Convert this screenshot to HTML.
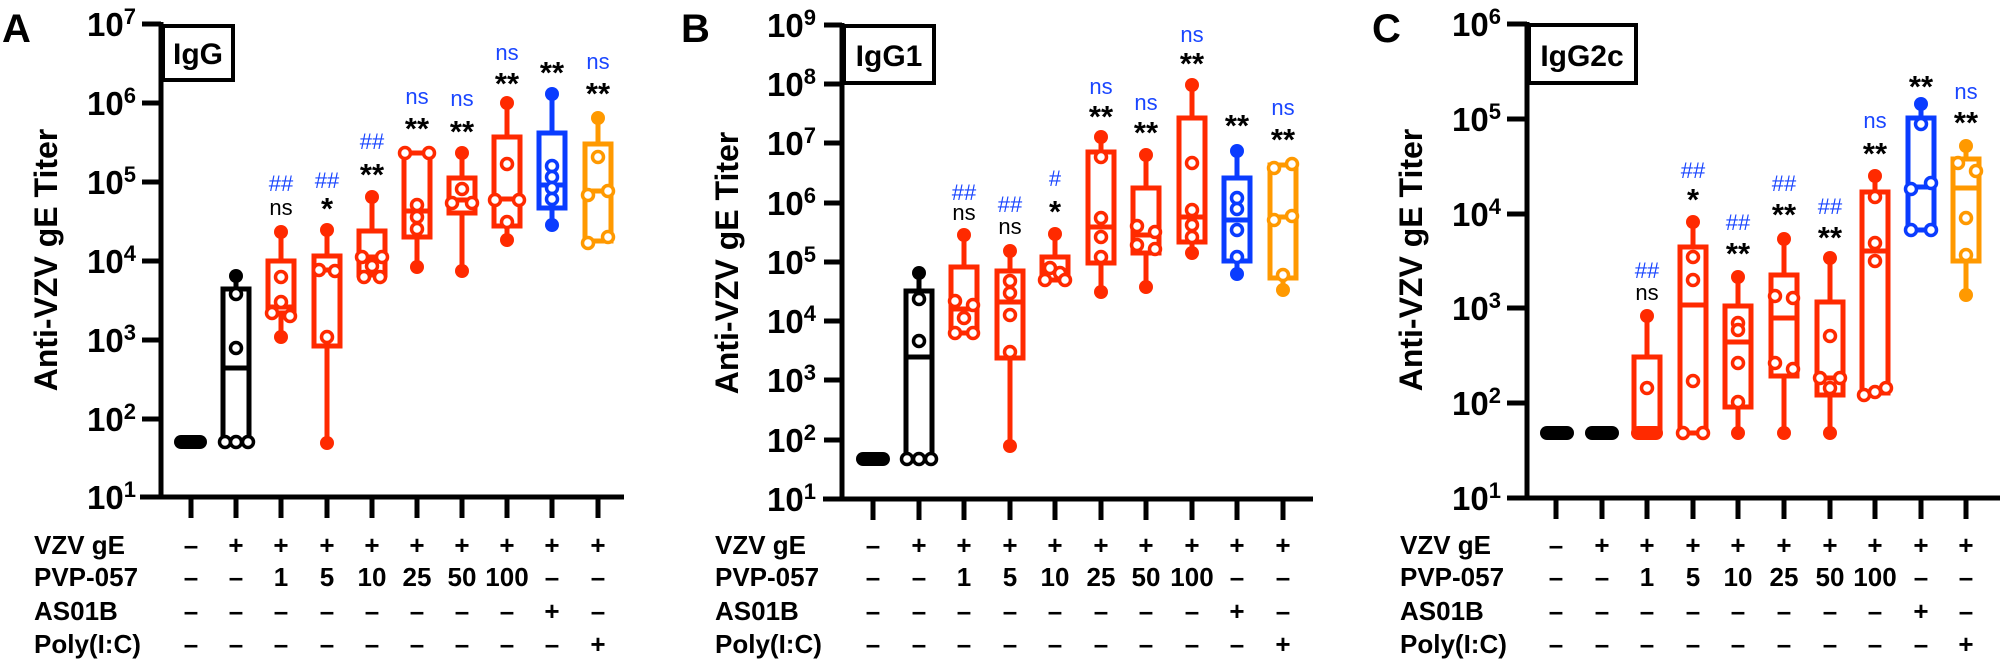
<!DOCTYPE html>
<html><head><meta charset="utf-8"><style>
body{margin:0;background:#fff}
svg{display:block;font-family:"Liberation Sans",Arial,sans-serif;font-weight:bold}
.ax{stroke:#000;stroke-width:5;fill:none}
.bx{stroke-width:5;fill:none}
.k{stroke:#000}.r{stroke:#ff2a00}.b{stroke:#0a3cff}.o{stroke:#ff9900}
.ok circle{fill:#fff;stroke-width:3.5;r:5.5}
.fl circle{r:7}
.ns{font-size:22px;font-weight:normal;text-anchor:middle}
.st{font-size:31px;text-anchor:middle}
.bl{fill:#1a46ff}
.tl{font-size:33px;text-anchor:end}
.tb{font-size:26px;text-anchor:middle}
.rl{font-size:26px}
.yt{font-size:32px;text-anchor:middle}
</style></head><body>
<svg width="2000" height="663" viewBox="0 0 2000 663">
<!-- ================= PANEL A ================= -->
<text x="2" y="42" font-size="40">A</text>
<text class="yt" transform="translate(57,260) rotate(-90)">Anti-VZV gE Titer</text>
<path class="ax" d="M161 22V497 M140 497H624 M142 24H161 M142 103H161 M142 182H161 M142 261H161 M142 340H161 M142 419H161 M191 497V518 M236 497V518 M281 497V518 M327 497V518 M372 497V518 M417 497V518 M462 497V518 M507 497V518 M552 497V518 M598 497V518"/>
<g class="tl"><text x="136" y="36">10<tspan dy="-12" font-size="22">7</tspan></text><text x="136" y="115">10<tspan dy="-12" font-size="22">6</tspan></text><text x="136" y="194">10<tspan dy="-12" font-size="22">5</tspan></text><text x="136" y="273">10<tspan dy="-12" font-size="22">4</tspan></text><text x="136" y="352">10<tspan dy="-12" font-size="22">3</tspan></text><text x="136" y="431">10<tspan dy="-12" font-size="22">2</tspan></text><text x="136" y="509">10<tspan dy="-12" font-size="22">1</tspan></text></g>
<rect x="163" y="26" width="70" height="54" fill="#fff" stroke="#000" stroke-width="4"/>
<text x="198" y="64" font-size="30" text-anchor="middle">IgG</text>
<rect x="174" y="435" width="33" height="14" rx="7" fill="#000"/>
<path class="bx k" d="M236 276V289 M223 289h26V442h-26Z M223 368h26"/>
<path class="bx r" d="M281 232V261 M281 313V337 M268 261h26V313h-26Z M268 307h26 M327 230V256 M327 346V443 M314 256h26V346h-26Z M314 270h26 M372 197V231 M359 231h26V275h-26Z M359 257h26 M404 153h26V237h-26Z M417 237V267 M404 211h26 M462 153V178 M462 213V271 M449 178h26V213h-26Z M449 200h26 M507 103V137 M507 226V240 M494 137h26V226h-26Z M494 199h26"/>
<path class="bx b" d="M552 94V133 M552 208V225 M539 133h26V208h-26Z M539 185h26"/>
<path class="bx o" d="M598 118V144 M585 144h26V241h-26Z M585 191h26"/>
<g class="fl" fill="#000"><circle cx="236" cy="276" r="7"/></g>
<g class="fl" fill="#ff2a00"><circle cx="281" cy="232" r="7"/><circle cx="281" cy="337" r="7"/><circle cx="327" cy="230" r="7"/><circle cx="327" cy="443" r="7"/><circle cx="372" cy="197" r="7"/><circle cx="417" cy="267" r="7"/><circle cx="462" cy="153" r="7"/><circle cx="462" cy="271" r="7"/><circle cx="507" cy="103" r="7"/><circle cx="507" cy="240" r="7"/></g>
<g class="fl" fill="#0a3cff"><circle cx="552" cy="94" r="7"/><circle cx="552" cy="225" r="7"/></g>
<g class="fl" fill="#ff9900"><circle cx="598" cy="118" r="7"/></g>
<g class="ok k"><circle cx="236" cy="294" r="5.5"/><circle cx="236" cy="348" r="5.5"/><circle cx="225" cy="442" r="5.5"/><circle cx="236" cy="442" r="5.5"/><circle cx="248" cy="442" r="5.5"/></g>
<g class="ok r"><circle cx="281" cy="277" r="5.5"/><circle cx="281" cy="302" r="5.5"/><circle cx="272" cy="313" r="5.5"/><circle cx="290" cy="316" r="5.5"/><circle cx="319" cy="270" r="5.5"/><circle cx="335" cy="271" r="5.5"/><circle cx="327" cy="337" r="5.5"/><circle cx="362" cy="257" r="5.5"/><circle cx="382" cy="257" r="5.5"/><circle cx="372" cy="266" r="5.5"/><circle cx="364" cy="277" r="5.5"/><circle cx="380" cy="277" r="5.5"/><circle cx="405" cy="153" r="5.5"/><circle cx="429" cy="153" r="5.5"/><circle cx="417" cy="205" r="5.5"/><circle cx="417" cy="217" r="5.5"/><circle cx="417" cy="229" r="5.5"/><circle cx="462" cy="189" r="5.5"/><circle cx="452" cy="203" r="5.5"/><circle cx="472" cy="203" r="5.5"/><circle cx="507" cy="164" r="5.5"/><circle cx="495" cy="200" r="5.5"/><circle cx="519" cy="200" r="5.5"/><circle cx="507" cy="222" r="5.5"/></g>
<g class="ok b"><circle cx="552" cy="166" r="5.5"/><circle cx="552" cy="177" r="5.5"/><circle cx="552" cy="188" r="5.5"/><circle cx="552" cy="199" r="5.5"/></g>
<g class="ok o"><circle cx="598" cy="157" r="5.5"/><circle cx="588" cy="195" r="5.5"/><circle cx="608" cy="191" r="5.5"/><circle cx="588" cy="243" r="5.5"/><circle cx="608" cy="237" r="5.5"/></g>
<g class="ns bl"><text x="281" y="191">##</text><text x="327" y="188">##</text><text x="372" y="149">##</text><text x="417" y="104">ns</text><text x="462" y="106">ns</text><text x="507" y="60">ns</text><text x="598" y="69">ns</text></g>
<g class="ns"><text x="281" y="215">ns</text></g>
<g class="st"><text x="327" y="219">*</text><text x="372" y="185">**</text><text x="417" y="139">**</text><text x="462" y="142">**</text><text x="507" y="94">**</text><text x="552" y="83">**</text><text x="598" y="104">**</text></g>
<g class="rl"><text x="34" y="554">VZV gE</text><text x="34" y="586">PVP-057</text><text x="34" y="620">AS01B</text><text x="34" y="653">Poly(I:C)</text></g>
<g class="tb">
<text x="191" y="554">–</text><text x="236" y="554">+</text><text x="281" y="554">+</text><text x="327" y="554">+</text><text x="372" y="554">+</text><text x="417" y="554">+</text><text x="462" y="554">+</text><text x="507" y="554">+</text><text x="552" y="554">+</text><text x="598" y="554">+</text>
<text x="191" y="586">–</text><text x="236" y="586">–</text><text x="281" y="586">1</text><text x="327" y="586">5</text><text x="372" y="586">10</text><text x="417" y="586">25</text><text x="462" y="586">50</text><text x="507" y="586">100</text><text x="552" y="586">–</text><text x="598" y="586">–</text>
<text x="191" y="620">–</text><text x="236" y="620">–</text><text x="281" y="620">–</text><text x="327" y="620">–</text><text x="372" y="620">–</text><text x="417" y="620">–</text><text x="462" y="620">–</text><text x="507" y="620">–</text><text x="552" y="620">+</text><text x="598" y="620">–</text>
<text x="191" y="653">–</text><text x="236" y="653">–</text><text x="281" y="653">–</text><text x="327" y="653">–</text><text x="372" y="653">–</text><text x="417" y="653">–</text><text x="462" y="653">–</text><text x="507" y="653">–</text><text x="552" y="653">–</text><text x="598" y="653">+</text>
</g>

<!-- ================= PANEL B ================= -->
<text x="681" y="42" font-size="40">B</text>
<text class="yt" transform="translate(738,263) rotate(-90)">Anti-VZV gE Titer</text>
<path class="ax" d="M842 23V499 M823 499H1313 M824 25H842 M824 84H842 M824 143H842 M824 203H842 M824 262H842 M824 321H842 M824 380H842 M824 440H842 M873 499V520 M919 499V520 M964 499V520 M1010 499V520 M1055 499V520 M1101 499V520 M1146 499V520 M1192 499V520 M1237 499V520 M1283 499V520"/>
<g class="tl"><text x="816" y="37">10<tspan dy="-12" font-size="22">9</tspan></text><text x="816" y="96">10<tspan dy="-12" font-size="22">8</tspan></text><text x="816" y="155">10<tspan dy="-12" font-size="22">7</tspan></text><text x="816" y="215">10<tspan dy="-12" font-size="22">6</tspan></text><text x="816" y="274">10<tspan dy="-12" font-size="22">5</tspan></text><text x="816" y="333">10<tspan dy="-12" font-size="22">4</tspan></text><text x="816" y="392">10<tspan dy="-12" font-size="22">3</tspan></text><text x="816" y="452">10<tspan dy="-12" font-size="22">2</tspan></text><text x="816" y="511">10<tspan dy="-12" font-size="22">1</tspan></text></g>
<rect x="844" y="26" width="90" height="57" fill="#fff" stroke="#000" stroke-width="4"/>
<text x="889" y="66" font-size="30" text-anchor="middle">IgG1</text>
<rect x="856" y="452" width="34" height="14" rx="7" fill="#000"/>
<path class="bx k" d="M919 273V291 M906 291h26V459h-26Z M906 357h26"/>
<path class="bx r" d="M964 235V267 M951 267h26V333h-26Z M951 309h26 M1010 251V271 M1010 358V446 M997 271h26V358h-26Z M997 302h26 M1055 234V257 M1042 257h26V280h-26Z M1042 272h26 M1101 137V152 M1101 263V292 M1088 152h26V263h-26Z M1088 227h26 M1146 155V188 M1146 253V287 M1133 188h26V253h-26Z M1133 235h26 M1192 85V118 M1192 242V253 M1179 118h26V242h-26Z M1179 217h26"/>
<path class="bx b" d="M1237 151V178 M1237 261V274 M1224 178h26V261h-26Z M1224 220h26"/>
<path class="bx o" d="M1283 278V290 M1270 165h26V278h-26Z M1270 217h26"/>
<g class="fl" fill="#000"><circle cx="919" cy="273" r="7"/></g>
<g class="fl" fill="#ff2a00"><circle cx="964" cy="235" r="7"/><circle cx="1010" cy="251" r="7"/><circle cx="1010" cy="446" r="7"/><circle cx="1055" cy="234" r="7"/><circle cx="1101" cy="137" r="7"/><circle cx="1101" cy="292" r="7"/><circle cx="1146" cy="155" r="7"/><circle cx="1146" cy="287" r="7"/><circle cx="1192" cy="85" r="7"/><circle cx="1192" cy="253" r="7"/></g>
<g class="fl" fill="#0a3cff"><circle cx="1237" cy="151" r="7"/><circle cx="1237" cy="274" r="7"/></g>
<g class="fl" fill="#ff9900"><circle cx="1283" cy="290" r="7"/></g>
<g class="ok k"><circle cx="919" cy="299" r="5.5"/><circle cx="919" cy="341" r="5.5"/><circle cx="907" cy="459" r="5.5"/><circle cx="919" cy="459" r="5.5"/><circle cx="931" cy="459" r="5.5"/></g>
<g class="ok r"><circle cx="955" cy="301" r="5.5"/><circle cx="973" cy="305" r="5.5"/><circle cx="964" cy="318" r="5.5"/><circle cx="955" cy="333" r="5.5"/><circle cx="973" cy="333" r="5.5"/><circle cx="1010" cy="281" r="5.5"/><circle cx="1010" cy="293" r="5.5"/><circle cx="1010" cy="315" r="5.5"/><circle cx="1010" cy="352" r="5.5"/><circle cx="1050" cy="268" r="5.5"/><circle cx="1060" cy="273" r="5.5"/><circle cx="1045" cy="280" r="5.5"/><circle cx="1065" cy="280" r="5.5"/><circle cx="1101" cy="157" r="5.5"/><circle cx="1101" cy="218" r="5.5"/><circle cx="1101" cy="237" r="5.5"/><circle cx="1101" cy="257" r="5.5"/><circle cx="1137" cy="226" r="5.5"/><circle cx="1155" cy="232" r="5.5"/><circle cx="1137" cy="245" r="5.5"/><circle cx="1155" cy="249" r="5.5"/><circle cx="1192" cy="163" r="5.5"/><circle cx="1192" cy="210" r="5.5"/><circle cx="1192" cy="225" r="5.5"/><circle cx="1192" cy="237" r="5.5"/></g>
<g class="ok b"><circle cx="1237" cy="198" r="5.5"/><circle cx="1237" cy="209" r="5.5"/><circle cx="1237" cy="230" r="5.5"/><circle cx="1237" cy="257" r="5.5"/></g>
<g class="ok o"><circle cx="1274" cy="168" r="5.5"/><circle cx="1292" cy="164" r="5.5"/><circle cx="1274" cy="220" r="5.5"/><circle cx="1292" cy="216" r="5.5"/><circle cx="1283" cy="275" r="5.5"/></g>
<g class="ns bl"><text x="964" y="200">##</text><text x="1010" y="212">##</text><text x="1055" y="186">#</text><text x="1101" y="94">ns</text><text x="1146" y="110">ns</text><text x="1192" y="42">ns</text><text x="1283" y="115">ns</text></g>
<g class="ns"><text x="964" y="220">ns</text><text x="1010" y="234">ns</text></g>
<g class="st"><text x="1055" y="222">*</text><text x="1101" y="127">**</text><text x="1146" y="143">**</text><text x="1192" y="74">**</text><text x="1237" y="136">**</text><text x="1283" y="150">**</text></g>
<g class="rl"><text x="715" y="554">VZV gE</text><text x="715" y="586">PVP-057</text><text x="715" y="620">AS01B</text><text x="715" y="653">Poly(I:C)</text></g>
<g class="tb">
<text x="873" y="554">–</text><text x="919" y="554">+</text><text x="964" y="554">+</text><text x="1010" y="554">+</text><text x="1055" y="554">+</text><text x="1101" y="554">+</text><text x="1146" y="554">+</text><text x="1192" y="554">+</text><text x="1237" y="554">+</text><text x="1283" y="554">+</text>
<text x="873" y="586">–</text><text x="919" y="586">–</text><text x="964" y="586">1</text><text x="1010" y="586">5</text><text x="1055" y="586">10</text><text x="1101" y="586">25</text><text x="1146" y="586">50</text><text x="1192" y="586">100</text><text x="1237" y="586">–</text><text x="1283" y="586">–</text>
<text x="873" y="620">–</text><text x="919" y="620">–</text><text x="964" y="620">–</text><text x="1010" y="620">–</text><text x="1055" y="620">–</text><text x="1101" y="620">–</text><text x="1146" y="620">–</text><text x="1192" y="620">–</text><text x="1237" y="620">+</text><text x="1283" y="620">–</text>
<text x="873" y="653">–</text><text x="919" y="653">–</text><text x="964" y="653">–</text><text x="1010" y="653">–</text><text x="1055" y="653">–</text><text x="1101" y="653">–</text><text x="1146" y="653">–</text><text x="1192" y="653">–</text><text x="1237" y="653">–</text><text x="1283" y="653">+</text>
</g>

<!-- ================= PANEL C ================= -->
<text x="1372" y="42" font-size="40">C</text>
<text class="yt" transform="translate(1422,260) rotate(-90)">Anti-VZV gE Titer</text>
<path class="ax" d="M1527 22V498 M1507 498H2000 M1507 24H1527 M1507 119H1527 M1507 214H1527 M1507 308H1527 M1507 403H1527 M1556 498V519 M1602 498V519 M1647 498V519 M1693 498V519 M1738 498V519 M1784 498V519 M1830 498V519 M1875 498V519 M1921 498V519 M1966 498V519"/>
<g class="tl"><text x="1501" y="36">10<tspan dy="-12" font-size="22">6</tspan></text><text x="1501" y="131">10<tspan dy="-12" font-size="22">5</tspan></text><text x="1501" y="226">10<tspan dy="-12" font-size="22">4</tspan></text><text x="1501" y="320">10<tspan dy="-12" font-size="22">3</tspan></text><text x="1501" y="415">10<tspan dy="-12" font-size="22">2</tspan></text><text x="1501" y="510">10<tspan dy="-12" font-size="22">1</tspan></text></g>
<rect x="1529" y="25" width="107" height="58" fill="#fff" stroke="#000" stroke-width="4"/>
<text x="1582" y="66" font-size="30" text-anchor="middle">IgG2c</text>
<rect x="1540" y="426" width="34" height="14" rx="7" fill="#000"/>
<rect x="1585" y="426" width="34" height="14" rx="7" fill="#000"/>
<rect x="1631" y="426" width="32" height="14" rx="7" fill="#ff2a00"/>
<path class="bx r" d="M1647 316V357 M1634 357h26V433h-26Z M1693 222V247 M1680 247h26V433h-26Z M1680 305h26 M1738 277V306 M1738 407V433 M1725 306h26V407h-26Z M1725 342h26 M1784 239V275 M1784 376V433 M1771 275h26V376h-26Z M1771 318h26 M1830 258V302 M1830 395V433 M1817 302h26V395h-26Z M1817 378h26 M1875 176V192 M1862 192h26V393h-26Z M1862 251h26"/>
<path class="bx b" d="M1921 104V118 M1908 118h26V230h-26Z M1908 187h26"/>
<path class="bx o" d="M1966 146V159 M1966 261V295 M1953 159h26V261h-26Z M1953 188h26"/>
<g class="fl" fill="#ff2a00"><circle cx="1647" cy="316" r="7"/><circle cx="1693" cy="222" r="7"/><circle cx="1738" cy="277" r="7"/><circle cx="1738" cy="433" r="7"/><circle cx="1784" cy="239" r="7"/><circle cx="1784" cy="433" r="7"/><circle cx="1830" cy="258" r="7"/><circle cx="1830" cy="433" r="7"/><circle cx="1875" cy="176" r="7"/></g>
<g class="fl" fill="#0a3cff"><circle cx="1921" cy="104" r="7"/></g>
<g class="fl" fill="#ff9900"><circle cx="1966" cy="146" r="7"/><circle cx="1966" cy="295" r="7"/></g>
<g class="ok r"><circle cx="1647" cy="388" r="5.5"/><circle cx="1693" cy="257" r="5.5"/><circle cx="1693" cy="280" r="5.5"/><circle cx="1693" cy="381" r="5.5"/><circle cx="1683" cy="433" r="5.5"/><circle cx="1703" cy="433" r="5.5"/><circle cx="1738" cy="323" r="5.5"/><circle cx="1738" cy="330" r="5.5"/><circle cx="1738" cy="363" r="5.5"/><circle cx="1738" cy="402" r="5.5"/><circle cx="1775" cy="296" r="5.5"/><circle cx="1793" cy="298" r="5.5"/><circle cx="1775" cy="363" r="5.5"/><circle cx="1793" cy="369" r="5.5"/><circle cx="1830" cy="336" r="5.5"/><circle cx="1820" cy="378" r="5.5"/><circle cx="1840" cy="378" r="5.5"/><circle cx="1830" cy="388" r="5.5"/><circle cx="1875" cy="197" r="5.5"/><circle cx="1875" cy="243" r="5.5"/><circle cx="1875" cy="261" r="5.5"/><circle cx="1864" cy="395" r="5.5"/><circle cx="1886" cy="388" r="5.5"/><circle cx="1875" cy="392" r="5.5"/></g>
<g class="ok b"><circle cx="1921" cy="124" r="5.5"/><circle cx="1931" cy="183" r="5.5"/><circle cx="1911" cy="189" r="5.5"/><circle cx="1911" cy="230" r="5.5"/><circle cx="1931" cy="230" r="5.5"/></g>
<g class="ok o"><circle cx="1958" cy="163" r="5.5"/><circle cx="1976" cy="171" r="5.5"/><circle cx="1966" cy="218" r="5.5"/><circle cx="1966" cy="255" r="5.5"/></g>
<g class="ns bl"><text x="1647" y="278">##</text><text x="1693" y="178">##</text><text x="1738" y="230">##</text><text x="1784" y="191">##</text><text x="1830" y="214">##</text><text x="1875" y="128">ns</text><text x="1966" y="99">ns</text></g>
<g class="ns"><text x="1647" y="300">ns</text></g>
<g class="st"><text x="1693" y="210">*</text><text x="1738" y="264">**</text><text x="1784" y="225">**</text><text x="1830" y="248">**</text><text x="1875" y="164">**</text><text x="1921" y="97">**</text><text x="1966" y="133">**</text></g>
<g class="rl"><text x="1400" y="554">VZV gE</text><text x="1400" y="586">PVP-057</text><text x="1400" y="620">AS01B</text><text x="1400" y="653">Poly(I:C)</text></g>
<g class="tb">
<text x="1556" y="554">–</text><text x="1602" y="554">+</text><text x="1647" y="554">+</text><text x="1693" y="554">+</text><text x="1738" y="554">+</text><text x="1784" y="554">+</text><text x="1830" y="554">+</text><text x="1875" y="554">+</text><text x="1921" y="554">+</text><text x="1966" y="554">+</text>
<text x="1556" y="586">–</text><text x="1602" y="586">–</text><text x="1647" y="586">1</text><text x="1693" y="586">5</text><text x="1738" y="586">10</text><text x="1784" y="586">25</text><text x="1830" y="586">50</text><text x="1875" y="586">100</text><text x="1921" y="586">–</text><text x="1966" y="586">–</text>
<text x="1556" y="620">–</text><text x="1602" y="620">–</text><text x="1647" y="620">–</text><text x="1693" y="620">–</text><text x="1738" y="620">–</text><text x="1784" y="620">–</text><text x="1830" y="620">–</text><text x="1875" y="620">–</text><text x="1921" y="620">+</text><text x="1966" y="620">–</text>
<text x="1556" y="653">–</text><text x="1602" y="653">–</text><text x="1647" y="653">–</text><text x="1693" y="653">–</text><text x="1738" y="653">–</text><text x="1784" y="653">–</text><text x="1830" y="653">–</text><text x="1875" y="653">–</text><text x="1921" y="653">–</text><text x="1966" y="653">+</text>
</g>
</svg>
</body></html>
